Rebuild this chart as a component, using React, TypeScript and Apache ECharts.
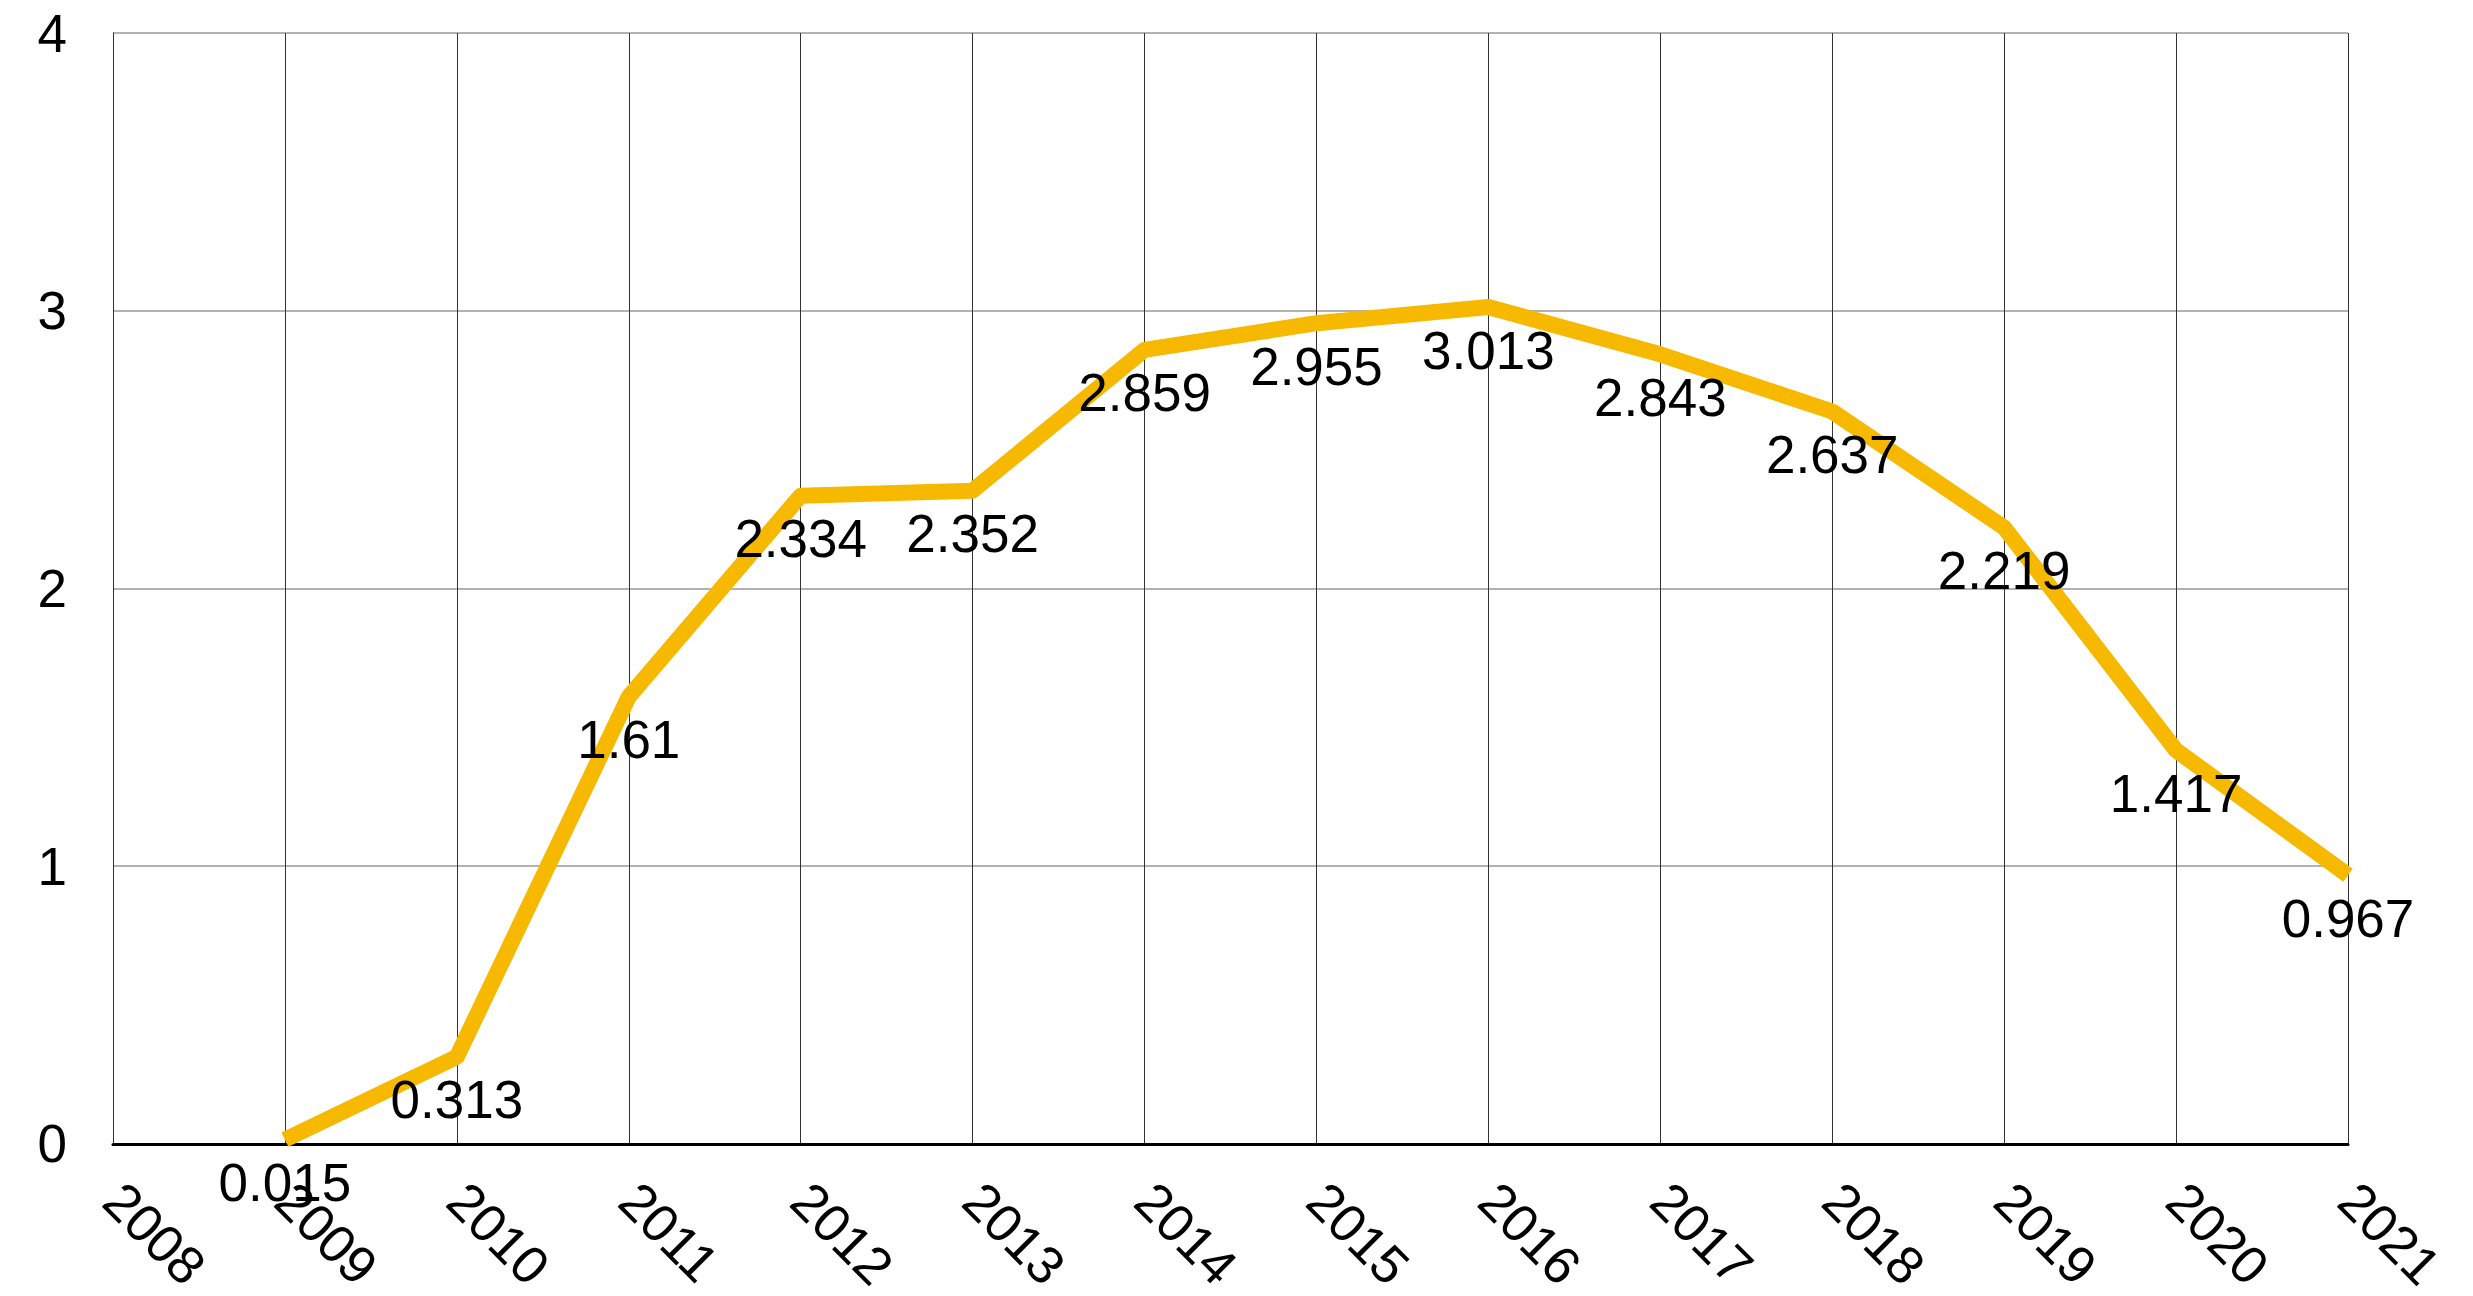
import React, { useEffect, useRef } from "react";
import * as echarts from "echarts";

const years = ["2008", "2009", "2010", "2011", "2012", "2013", "2014", "2015", "2016", "2017", "2018", "2019", "2020", "2021"];
const values: (number | null)[] = [null, 0.015, 0.313, 1.61, 2.334, 2.352, 2.859, 2.955, 3.013, 2.843, 2.637, 2.219, 1.417, 0.967];
const yTicks = [0, 1, 2, 3, 4];

const FONT = "'Liberation Sans', Arial, Helvetica, sans-serif";

export default function App() {
  const ref = useRef<HTMLDivElement>(null);
  useEffect(() => {
    if (!ref.current) return;
    const chart = echarts.init(ref.current, undefined, { renderer: "svg" });
    chart.setOption({
      animation: false,
      backgroundColor: "#ffffff",
      textStyle: { fontFamily: FONT },
      grid: { left: 113, right: 125, top: 33, bottom: 148, containLabel: false },
      xAxis: {
        type: "category",
        data: years,
        boundaryGap: false,
        axisLine: { show: true, lineStyle: { color: "#000", width: 3 } },
        axisTick: { show: false },
        axisLabel: {
          rotate: -45,
          color: "#000",
          fontSize: 53,
          fontFamily: FONT,
          margin: 48,
          interval: 0,
        },
        splitLine: { show: true, lineStyle: { color: "#333", width: 1 } },
      },
      yAxis: {
        type: "value",
        min: yTicks[0],
        max: yTicks[yTicks.length - 1],
        interval: 1,
        axisLine: { show: true, lineStyle: { color: "#333", width: 1 } },
        axisTick: { show: false },
        axisLabel: { color: "#000", fontSize: 53, fontFamily: FONT, margin: 46 },
        splitLine: { show: true, lineStyle: { color: "#999", width: 1.5 } },
      },
      series: [
        {
          type: "line",
          data: values,
          showSymbol: true,
          symbol: "circle",
          symbolSize: 1,
          connectNulls: false,
          lineStyle: { color: "#F7B900", width: 16, join: "round" },
          itemStyle: { color: "#F7B900" },
          labelLayout: { hideOverlap: false },
          label: {
            show: true,
            position: "bottom",
            distance: 16,
            color: "#000",
            fontSize: 53,
            fontFamily: FONT,
          },
        },
      ],
    });
    return () => chart.dispose();
  }, []);
  return (
    <div
      ref={ref}
      style={{ position: "fixed", left: 0, top: 0, width: 2473, height: 1296, background: "#fff" }}
    />
  );
}
